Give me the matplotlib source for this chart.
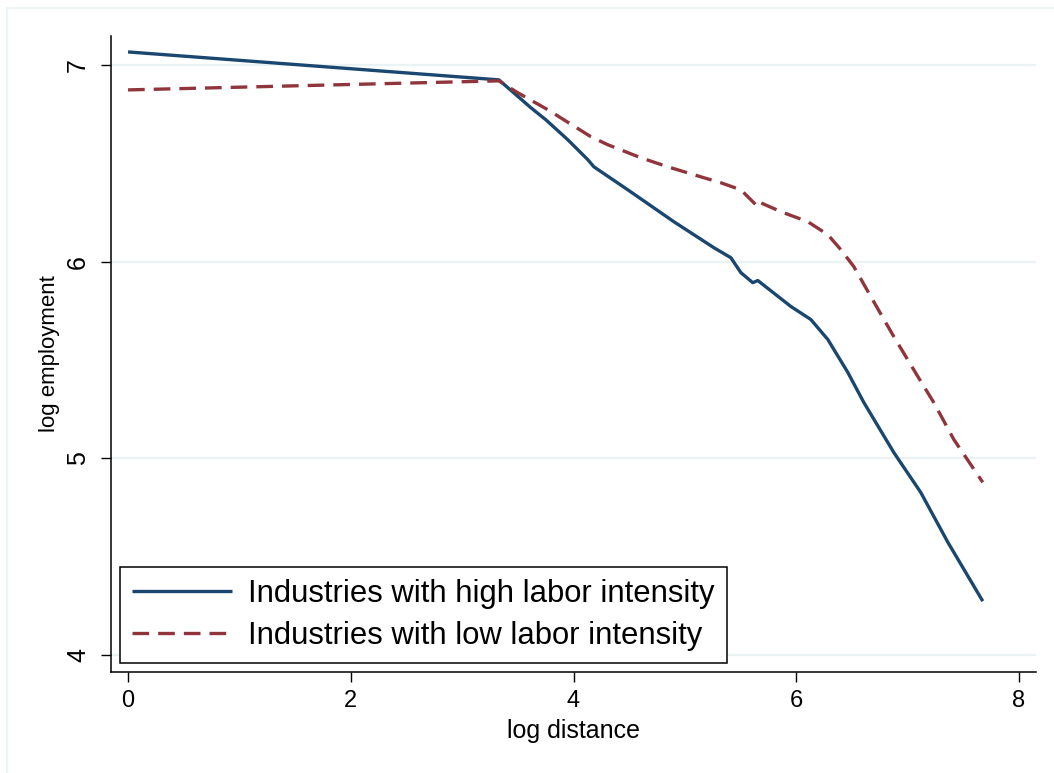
import matplotlib
matplotlib.use('Agg')
import matplotlib.pyplot as plt
from matplotlib.lines import Line2D

plt.rcParams['font.family'] = ['Liberation Sans', 'DejaVu Sans']

# log distance / log employment
high_x = [0.0, 3.330, 3.618, 3.752, 3.950, 4.129, 4.183, 4.488, 4.901, 5.260,
          5.413, 5.503, 5.610, 5.655, 5.952, 6.131, 6.284, 6.463, 6.607, 6.876,
          7.118, 7.361, 7.675]
high_y = [7.066, 6.924, 6.782, 6.721, 6.619, 6.518, 6.482, 6.365, 6.203, 6.071,
          6.020, 5.944, 5.893, 5.904, 5.772, 5.706, 5.604, 5.437, 5.284, 5.030,
          4.827, 4.574, 4.274]

low_x = [0.0, 3.330, 3.501, 3.770, 3.914, 4.156, 4.309, 4.605, 4.847, 5.144,
         5.323, 5.503, 5.592, 5.655, 5.682, 5.862, 6.104, 6.284, 6.400, 6.517,
         6.670, 6.876, 7.092, 7.235, 7.415, 7.675]
low_y = [6.873, 6.919, 6.858, 6.772, 6.721, 6.635, 6.594, 6.528, 6.482, 6.431,
         6.401, 6.365, 6.315, 6.279, 6.299, 6.254, 6.203, 6.137, 6.061, 5.975,
         5.822, 5.619, 5.416, 5.284, 5.096, 4.878]

x_ticks = [0, 2, 4, 6, 8]
y_ticks = [4, 5, 6, 7]

blue = '#1a476f'
red = '#90353b'
grid = '#eaf2f3'

fig = plt.figure(figsize=(10.54, 7.73), dpi=100)
ax = fig.add_axes([111 / 1054, 1 - 672 / 773, (1036 - 111) / 1054, (672 - 36) / 773])

# faint outer graph region border
fig.add_artist(Line2D([7 / 1054, 7 / 1054], [0, 1 - 8 / 773], color=grid, lw=1.2))
fig.add_artist(Line2D([7 / 1054, 1], [1 - 8 / 773, 1 - 8 / 773], color=grid, lw=1.2))

for yt in y_ticks:
    ax.axhline(yt, color=grid, lw=1.6, zorder=0)

ax.plot(high_x, high_y, color=blue, lw=2.4, solid_capstyle='butt',
        label='Industries with high labor intensity')
ax.plot(low_x, low_y, color=red, lw=2.4, dashes=(5, 2.7),
        label='Industries with low labor intensity')

ax.set_xlim(-0.153, 8.153)
ax.set_ylim(3.914, 7.147)
ax.set_xticks(x_ticks)
ax.set_yticks(y_ticks)

for s in ['top', 'right']:
    ax.spines[s].set_visible(False)
for s in ['left', 'bottom']:
    ax.spines[s].set_linewidth(1.1)

ax.tick_params(axis='both', direction='out', length=7.2, width=1.0)
ax.tick_params(axis='x', pad=6, labelsize=17)
ax.tick_params(axis='y', pad=8, labelsize=18)
for lab in ax.get_yticklabels():
    lab.set_rotation(90)
    lab.set_va('center')

ax.set_xlabel('log distance', fontsize=18, labelpad=5)
ax.set_ylabel('log employment', fontsize=16, labelpad=4)

leg = ax.legend(loc='lower left', bbox_to_anchor=(9 / 925, 9 / 636), fontsize=22.3,
                frameon=True, fancybox=False, framealpha=1, handlelength=3.22,
                handletextpad=0.52, labelspacing=0.37, borderpad=0.4,
                borderaxespad=0)
leg.get_frame().set_edgecolor('black')
leg.get_frame().set_linewidth(1.1)

fig.savefig('out.png', dpi=100)
